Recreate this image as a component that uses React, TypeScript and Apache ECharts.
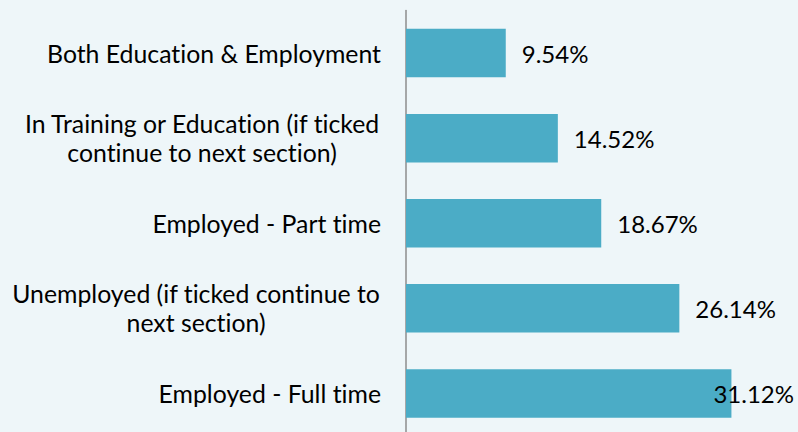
import React, { useEffect, useRef } from "react";
import * as echarts from "echarts";

const categories: string[] = [
  "Both Education & Employment",
  "In Training or Education (if ticked\ncontinue to next section)",
  "Employed - Part time",
  "Unemployed (if ticked continue to\nnext section)",
  "Employed - Full time",
];
const values: number[] = [9.54, 14.52, 18.67, 26.14, 31.12];

const FONT = "Lato";
const LABEL_SIZE = 24.8;
const VALUE_SIZE = 24;

function measure(text: string, size: number): number {
  const c = document.createElement("canvas");
  const ctx = c.getContext("2d");
  if (!ctx) return text.length * size * 0.5;
  ctx.font = `${size}px ${FONT}`;
  return ctx.measureText(text).width;
}

export default function App() {
  const ref = useRef<HTMLDivElement>(null);
  useEffect(() => {
    if (!ref.current) return;
    const chart = echarts.init(ref.current, undefined, { renderer: "svg" });

    const rich: Record<string, any> = {};
    categories.forEach((c, i) => {
      const lines = c.split("\n");
      const w = Math.max(...lines.map((l) => measure(l, LABEL_SIZE))) + 1;
      rich["c" + i] = {
        width: w,
        align: "center",
        fontFamily: FONT,
        fontSize: LABEL_SIZE,
        lineHeight: 29,
        color: "#000",
      };
    });

    chart.setOption({
      animation: false,
      backgroundColor: "#EEF6F9",
      grid: {
        left: 406,
        right: 26,
        top: 10.5,
        height: 425.5,
        containLabel: false,
        outerBoundsMode: "none",
      },
      xAxis: {
        type: "value",
        min: 0,
        max: 35,
        show: false,
        splitLine: { show: false },
      },
      yAxis: {
        type: "category",
        inverse: true,
        data: categories,
        axisTick: { show: false },
        axisLine: { show: true, lineStyle: { color: "#8C8C8C", width: 1.5 } },
        axisLabel: {
          margin: 25,
          color: "#000",
          fontFamily: FONT,
          fontSize: LABEL_SIZE,
          lineHeight: 29,
          formatter: (v: string, i: number) =>
            v.includes("\n")
              ? v
                  .split("\n")
                  .map((l) => `{c${i}|${l}}`)
                  .join("\n")
              : v,
          rich,
        },
      },
      series: [
        {
          type: "bar",
          data: values.map((v, i) =>
            i === values.length - 1
              ? { value: v, label: { offset: [-34, 0] } }
              : v
          ),
          barCategoryGap: "43%",
          itemStyle: { color: "#4BACC6" },
          label: {
            show: true,
            position: "right",
            distance: 16,
            color: "#000",
            fontFamily: FONT,
            fontSize: VALUE_SIZE,
            formatter: (p: any) => `${Number(p.value).toFixed(2)}%`,
          },
        },
      ],
    });
    return () => chart.dispose();
  }, []);
  return (
    <>
      <style>
        {
          'svg text, svg tspan { font-variant-ligatures: none !important; font-feature-settings: "liga" 0, "clig" 0 !important; }'
        }
      </style>
      <div
        ref={ref}
        style={{ position: "fixed", left: 0, top: 0, width: 798, height: 432 }}
      />
    </>
  );
}
